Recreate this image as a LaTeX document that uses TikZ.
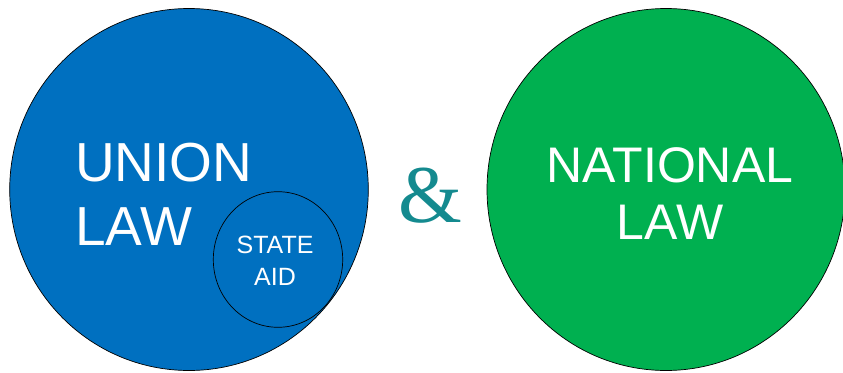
\documentclass[tikz,border=0pt]{standalone}
\usepackage{fontspec}
\setmainfont{Liberation Sans}
\newfontfamily\serifamp{Liberation Serif}
\definecolor{ublue}{HTML}{0070C0}
\definecolor{ngreen}{HTML}{00B050}
\definecolor{ampteal}{HTML}{148A8F}
\begin{document}
\begin{tikzpicture}[x=1pt,y=-1pt,
  bigc/.style={draw=black,line width=0.7pt}]
\useasboundingbox (0,0) rectangle (843,372);
\path[bigc,fill=ublue] (189,189.5) ellipse [x radius=179.3, y radius=181];
\path[bigc,fill=ublue] (278,259.5) ellipse [x radius=64.7, y radius=67.8];
\path[bigc,fill=ngreen] (666,189.5) ellipse [x radius=179, y radius=181];
\node[text=white,inner sep=0pt,anchor=base west,align=left,font=\fontsize{55}{63.5}\selectfont] (union) at (75,245) {UNION\\LAW};
\node[text=white,inner sep=0pt,anchor=base,align=center,font=\fontsize{50}{57}\selectfont] (national) at (670,239.3) {NATIONAL\\LAW};
\node[text=white,inner sep=0pt,anchor=base,align=center,font=\fontsize{25}{32.4}\selectfont] (stateaid) at (275,285.7) {STATE\\AID};
\node[text=ampteal,inner sep=0pt,anchor=base,font=\serifamp\fontsize{82}{82}\selectfont] (amp) at (430,222.3) {\&};
\end{tikzpicture}
\end{document}
